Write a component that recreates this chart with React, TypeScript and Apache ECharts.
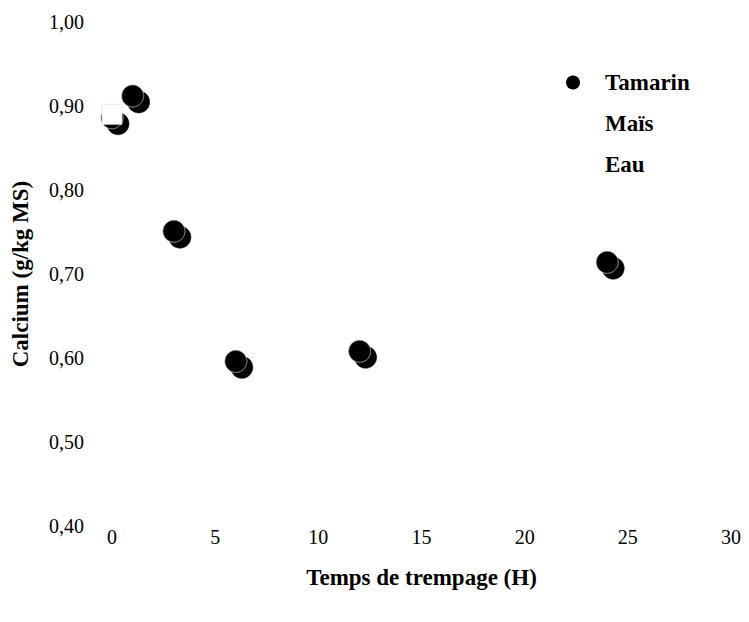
import React, { useEffect, useRef } from "react";
import * as echarts from "echarts";

const seriesNames = ["Tamarin", "Maïs", "Eau"];
const tamarinData: [number, number][] = [
  [0, 0.886],
  [1, 0.912],
  [3, 0.751],
  [6, 0.596],
  [12, 0.608],
  [24, 0.714],
];
const maisData: [number, number][] = [[0, 0.89]];
const eauData: [number, number][] = [];
const xTicks = { min: 0, max: 30, interval: 5 };
const yTicks = { min: 0.4, max: 1.0, interval: 0.1 };

const FONT = "'Liberation Serif', 'Times New Roman', serif";

export default function App() {
  const ref = useRef<HTMLDivElement>(null);
  useEffect(() => {
    if (!ref.current) return;
    const chart = echarts.init(ref.current, undefined, { renderer: "svg" });
    chart.setOption({
      animation: false,
      backgroundColor: "#ffffff",
      textStyle: { fontFamily: FONT, color: "#000" },
      grid: { left: 104, right: 10, top: 14, bottom: 88, outerBoundsMode: "none", containLabel: false },
      legend: {
        orient: "vertical",
        left: 553,
        top: 58,
        itemWidth: 44,
        itemHeight: 14,
        itemGap: 18,
        icon: "circle",
        selectedMode: false,
        textStyle: {
          fontFamily: FONT,
          fontSize: 23,
          fontWeight: "bold",
          color: "#000",
          padding: [0, 0, 0, 5],
        },
        data: [
          { name: seriesNames[0], itemStyle: { color: "#000", opacity: 1, borderWidth: 0, shadowColor: "transparent", shadowOffsetX: 0, shadowOffsetY: 0 } },
          { name: seriesNames[1], itemStyle: { color: "#fff", borderWidth: 0 } },
          { name: seriesNames[2], itemStyle: { color: "#fff", borderWidth: 0 } },
        ],
      },
      xAxis: {
        type: "value",
        min: xTicks.min,
        max: xTicks.max,
        interval: xTicks.interval,
        name: "Temps de trempage (H)",
        nameLocation: "middle",
        nameGap: 40,
        nameTextStyle: { fontFamily: FONT, fontSize: 23, fontWeight: "bold", color: "#000" },
        axisLine: { show: false },
        axisTick: { show: false },
        splitLine: { show: false },
        axisLabel: { fontFamily: FONT, fontSize: 20, color: "#000", margin: 1 },
      },
      yAxis: {
        type: "value",
        min: yTicks.min,
        max: yTicks.max,
        interval: yTicks.interval,
        name: "Calcium (g/kg MS)",
        nameLocation: "middle",
        nameGap: 80,
        nameTextStyle: { fontFamily: FONT, fontSize: 23, fontWeight: "bold", color: "#000" },
        axisLine: { show: false },
        axisTick: { show: false },
        splitLine: { show: false },
        axisLabel: {
          fontFamily: FONT,
          fontSize: 20,
          color: "#000",
          margin: 28,
          formatter: (v: number) => v.toFixed(2).replace(".", ","),
        },
      },
      series: [
        {
          name: seriesNames[0],
          type: "scatter",
          symbol: "circle",
          symbolSize: 22,
          data: tamarinData,
          itemStyle: {
            color: "#000",
            opacity: 1,
            borderColor: "#aaa",
            borderWidth: 0.6,
            shadowColor: "#000",
            shadowBlur: 0,
            shadowOffsetX: 6,
            shadowOffsetY: 6,
          },
        },
        {
          name: seriesNames[1],
          type: "scatter",
          symbol: "rect",
          symbolSize: 20,
          data: maisData,
          itemStyle: { color: "#fff", opacity: 1, borderColor: "#ddd", borderWidth: 0.6 },
        },
        {
          name: seriesNames[2],
          type: "scatter",
          symbol: "circle",
          symbolSize: 20,
          data: eauData,
          itemStyle: { color: "#fff", opacity: 1 },
        },
      ],
    });
    return () => chart.dispose();
  }, []);
  return <div ref={ref} style={{ width: 733, height: 606 }} />;
}
